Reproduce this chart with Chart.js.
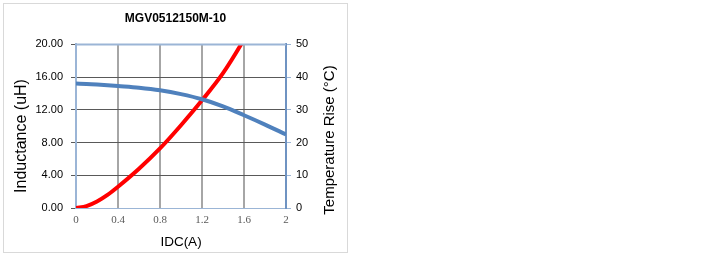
<!DOCTYPE html>
<html>
<head>
<meta charset="utf-8">
<script src="https://cdn.jsdelivr.net/npm/chart.js@4"></script>
<style>
  body { margin: 0; background: #fff; }
  #box { position: absolute; left: 3px; top: 3px; width: 343px; height: 248px; border: 1px solid #d9d9d9; }
</style>
</head>
<body>
<div id="box"><canvas id="myChart" width="343" height="248"></canvas></div>
<script>
// IDC (A)
let current = [0, 0.1, 0.2, 0.3, 0.4, 0.6, 0.8, 1.0, 1.2, 1.4, 1.6, 1.8, 2.0];
// inductance (uH)
let inductance = [15.21, 15.17, 15.1, 15.01, 14.91, 14.7, 14.39, 13.92, 13.29, 12.42, 11.34, 10.2, 8.99];
// temperature rise (°C)
let tempRise = [0, 0.6, 2.0, 4.0, 6.5, 12.0, 18.2, 25.3, 32.9, 41.2, 51.5, 63, 74];

let xTicks = [0, 0.4, 0.8, 1.2, 1.6, 2];

let toPts = (ys) => current.map((x, i) => ({x: x, y: ys[i]}));

let ctx = document.getElementById('myChart').getContext('2d');

// axis titles drawn by hand so the right one reads bottom-to-top like the left one
function axisText(c, text, x, y, size, rot) {
    c.save();
    c.translate(x, y);
    c.rotate(rot);
    c.font = size + 'px "Liberation Sans"';
    c.fillStyle = '#000';
    c.textAlign = 'center';
    c.textBaseline = 'middle';
    c.fillText(text, 0, 0);
    c.restore();
}

const myChart = new Chart(ctx, {
    type: 'line',
    data: {
        datasets: [{
            label: 'Inductance',
            data: toPts(inductance),
            borderColor: '#4f81bd',
            borderWidth: 4,
            pointRadius: 0,
            cubicInterpolationMode: 'monotone',
            yAxisID: 'y'
        }, {
            label: 'Temperature Rise',
            data: toPts(tempRise),
            borderColor: '#ff0000',
            borderWidth: 4,
            pointRadius: 0,
            cubicInterpolationMode: 'monotone',
            yAxisID: 'y2'
        }]
    },
    options: {
        responsive: false,
        animation: false,
        layout: { padding: 0 },
        plugins: {
            legend: { display: false },
            tooltip: { enabled: false },
            title: {
                display: true,
                text: 'MGV0512150M-10',
                color: '#000',
                font: { family: 'Liberation Sans', size: 12, weight: 'bold' },
                padding: { top: 7, bottom: 19 }
            }
        },
        scales: {
            x: {
                type: 'linear',
                min: 0,
                max: 2,
                afterBuildTicks: (axis) => { axis.ticks = xTicks.map(v => ({value: v})); },
                afterFit: (axis) => { axis.height = 44; },
                ticks: {
                    color: '#595959',
                    font: { family: 'Liberation Serif', size: 11 },
                    padding: 6,
                    maxRotation: 0,
                    callback: (v) => String(v)
                },
                grid: { color: '#a6a6a6', lineWidth: 2, drawTicks: false },
                border: { color: '#9bb5d6', width: 1 }
            },
            y: {
                position: 'left',
                min: 0,
                max: 20,
                afterFit: (axis) => { axis.width = 72; },
                ticks: {
                    stepSize: 4,
                    color: '#000',
                    font: { family: 'Liberation Sans', size: 11 },
                    padding: 8,
                    callback: (v) => v.toFixed(2)
                },
                grid: { color: '#595959', lineWidth: 1, tickLength: 5 },
                border: { color: '#9bb5d6', width: 2 }
            },
            y2: {
                position: 'right',
                min: 0,
                max: 50,
                afterFit: (axis) => { axis.width = 61; },
                ticks: {
                    stepSize: 10,
                    color: '#000',
                    font: { family: 'Liberation Sans', size: 11 },
                    padding: 5
                },
                grid: { drawOnChartArea: false, color: '#9bb5d6', tickLength: 5 },
                border: { color: '#6f93c2', width: 2 }
            }
        }
    },
    plugins: [{
        id: 'extras',
        afterDraw: (chart) => {
            let a = chart.chartArea;
            let c = chart.ctx;
            c.save();
            c.strokeStyle = '#9bb5d6';
            c.lineWidth = 2;
            c.beginPath();
            c.moveTo(a.left, a.top);
            c.lineTo(a.right, a.top);
            c.stroke();
            c.restore();
            // canvas sits at page (4,4)
            axisText(c, 'Inductance (uH)', 18, 132, 16, -Math.PI / 2);
            axisText(c, 'Temperature Rise (°C)', 325.5, 136, 15, -Math.PI / 2);
            axisText(c, 'IDC(A)', 177, 238, 13.5, 0);
        }
    }]
});
</script>
</body>
</html>
